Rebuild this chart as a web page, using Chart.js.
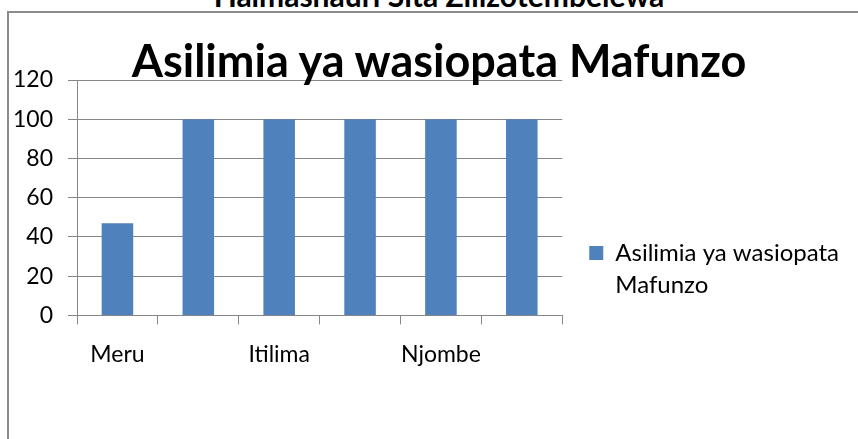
<!DOCTYPE html>
<html>
<head>
<meta charset="utf-8">
<script src="https://cdn.jsdelivr.net/npm/chart.js@4"></script>
<style>
  html, body { margin: 0; padding: 0; background: #fff; }
  #wrap { position: relative; width: 858px; height: 439px; overflow: hidden; }
  #frame { position: absolute; left: 7px; top: 11px; width: 860px; height: 440px;
           border-top: 2px solid #8c8c8c; border-left: 2px solid #8c8c8c; }
  .heading { position: absolute; left: 10px; width: 858px; text-align: center;
             font-family: Lato, sans-serif; font-weight: bold; line-height: 1; color: #000; white-space: nowrap; }
  #topTitle { top: -20px; font-size: 30px; }
  #chartTitle { top: 38px; font-size: 45px; }
  #chart { position: absolute; left: 0; top: 0; }
</style>
</head>
<body>
<div id="wrap">
  <div id="frame"></div>
  <div id="topTitle" class="heading">Halmashauri Sita Zilizotembelewa</div>
  <canvas id="chart" width="858" height="439"></canvas>
  <div id="chartTitle" class="heading"></div>
</div>
<script>
document.addEventListener('DOMContentLoaded', function() {
    // --- Data ---
    const categories = ['Meru', '', 'Itilima', '', 'Njombe', ''];
    const asilimiaValues = [47, 100, 100, 100, 100, 100];
    const seriesLabel = ['Asilimia ya wasiopata', 'Mafunzo'];
    const chartTitle = 'Asilimia ya wasiopata Mafunzo';
    const yTicks = [0, 20, 40, 60, 80, 100, 120];

    const gridColor = '#868686';

    // Title sits over the plot like in the original, so it's placed by hand
    document.getElementById('chartTitle').textContent = chartTitle;

    const ctx = document.getElementById('chart').getContext('2d');
    new Chart(ctx, {
        type: 'bar',
        data: {
            labels: categories,
            datasets: [{
                label: seriesLabel,
                data: asilimiaValues,
                backgroundColor: '#4F81BD',
                borderWidth: 0,
                barPercentage: 0.39,
                categoryPercentage: 1.0
            }]
        },
        options: {
            responsive: false,
            animation: false,
            layout: {
                padding: { left: 8, right: 9, top: 80, bottom: 55 }
            },
            scales: {
                x: {
                    grid: { display: true, drawOnChartArea: false, drawTicks: true, tickLength: 9, color: gridColor, offset: true },
                    border: { display: true, color: gridColor, width: 1 },
                    ticks: {
                        autoSkip: false,
                        maxRotation: 0,
                        padding: 16,
                        color: '#000',
                        font: { family: 'Lato', size: 23 }
                    }
                },
                y: {
                    min: yTicks[0],
                    max: yTicks[yTicks.length - 1],
                    grid: { color: gridColor, tickLength: 9, lineWidth: 1 },
                    border: { display: true, color: gridColor, width: 1 },
                    ticks: {
                        stepSize: yTicks[1] - yTicks[0],
                        padding: 15,
                        color: '#000',
                        font: { family: 'Lato', size: 23 }
                    },
                    afterFit: function(scale) { scale.width = 69; }
                }
            },
            plugins: {
                title: { display: false },
                legend: {
                    position: 'right',
                    align: 'start',
                    maxWidth: 296,
                    title: {
                        display: true,
                        text: ' ',
                        font: { size: 10, lineHeight: 1 },
                        padding: { top: 124, bottom: 0 }
                    },
                    labels: {
                        boxWidth: 14,
                        boxHeight: 14,
                        padding: 27,
                        color: '#000',
                        font: { family: 'Lato', size: 24, lineHeight: 1.35 }
                    }
                },
                tooltip: { enabled: false }
            }
        }
    });
});
</script>
</body>
</html>
